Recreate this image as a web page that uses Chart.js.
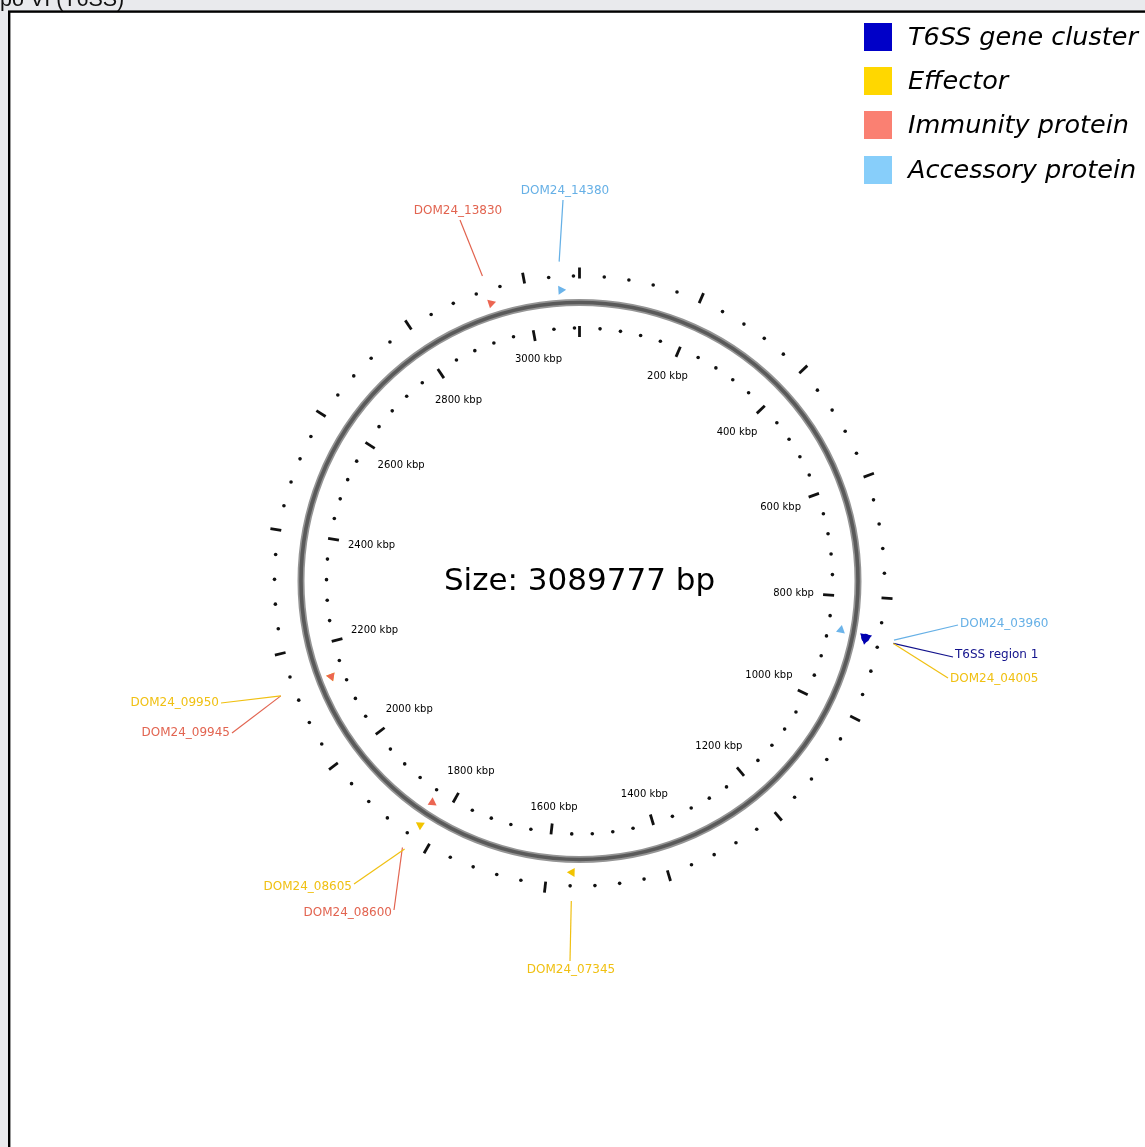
<!DOCTYPE html>
<html>
<head>
<meta charset="utf-8">
<script src="https://cdn.jsdelivr.net/npm/chart.js@4.4.1/dist/chart.umd.min.js"></script>
<style>
  html, body { margin: 0; padding: 0; background: #e9eaed; overflow: hidden; }
  canvas { display: block; }
</style>
</head>
<body>
<canvas id="map" width="1145" height="1147"></canvas>
<script>
// ─── Genome + axis ───
const genomeSize = 3089777;            // bp
const genomeKbp  = genomeSize / 1000;
const majorTicks = [0, 200, 400, 600, 800, 1000, 1200, 1400, 1600, 1800, 2000, 2200, 2400, 2600, 2800, 3000];
const labelTicks = [200, 400, 600, 800, 1000, 1200, 1400, 1600, 1800, 2000, 2200, 2400, 2600, 2800, 3000];
const minorStep  = 40;                 // kbp between the small dots

// ─── Features (position in kbp) ───
const featureNames  = ['DOM24_04005', 'DOM24_03960', 'DOM24_07345', 'DOM24_08605', 'DOM24_08600',
                       'DOM24_09950', 'DOM24_09945', 'DOM24_13830', 'DOM24_14380'];
const featureKbp    = [869.0, 863.8, 1557.5, 1829.2, 1833.3, 2136.8, 2136.8, 2938.2, 3058.5];
const featureType   = ['effector', 'accessory', 'effector', 'effector', 'immunity',
                       'effector', 'immunity', 'immunity', 'accessory'];
const featureStrand = [1, -1, 1, 1, -1, -1, -1, 1, 1];
const featureTrack  = ['outer', 'inner', 'outer', 'outer', 'inner', 'inner', 'inner', 'outer', 'outer'];

const clusterNames = ['T6SS region 1'];
const clusterKbp   = [869.0];

// ─── Legend ───
const legendNames = ['T6SS gene cluster', 'Effector', 'Immunity protein', 'Accessory protein'];
const legendTypes = ['cluster', 'effector', 'immunity', 'accessory'];

// ─── Styles / layout ───
const W = 1145, H = 1147;
const CX = 579.5, CY = 581;            // circle centre in page pixels
const RING_R = 278.5;
const TRACK_R = { outer: 291.5, inner: 266 };
const LEADER_R = 320;
const LEGEND_COLORS = { cluster: '#0000c8', effector: '#ffd700', immunity: '#fa8072', accessory: '#87cefa' };
const MARK_COLORS   = { cluster: '#0000b0', effector: '#f2c400', immunity: '#ec6652', accessory: '#6cb4ea' };
const TEXT_COLORS   = { cluster: '#12128c', effector: '#f0c012', immunity: '#e26450', accessory: '#66b0e6' };

// label text anchor [x, y, align] and leader end [x, y], page pixels
const labelLayout = {
  'DOM24_14380':   { text: [565, 191, 'center'], end: [563, 200] },
  'DOM24_13830':   { text: [458, 211, 'center'], end: [460, 220] },
  'DOM24_03960':   { text: [960, 624, 'left'],   end: [958, 625] },
  'T6SS region 1': { text: [955, 655, 'left'],   end: [953, 657] },
  'DOM24_04005':   { text: [950, 679, 'left'],   end: [948, 678] },
  'DOM24_09950':   { text: [219, 703, 'right'],  end: [221, 703] },
  'DOM24_09945':   { text: [230, 733, 'right'],  end: [232, 733] },
  'DOM24_08605':   { text: [352, 887, 'right'],  end: [354, 884] },
  'DOM24_08600':   { text: [392, 913, 'right'],  end: [394, 910] },
  'DOM24_07345':   { text: [571, 970, 'center'], end: [570, 961] }
};

// ─── Helpers ───
function deg(kbp) { return kbp / genomeKbp * 360; }
function polar(kbp, r) {
  const a = kbp / genomeKbp * 2 * Math.PI;
  return { x: r * Math.sin(a), y: r * Math.cos(a) };
}
function pageToUnits(px, py) { return { x: px - CX, y: CY - py }; }

const minorTicks = [];
for (let k = minorStep; k < genomeKbp; k += minorStep) {
  if (k % 200 !== 0) minorTicks.push(k);
}

function tickPoints(list, r) {
  return list.map(k => Object.assign(polar(k, r), { rot: deg(k) + 90 }));
}

const featurePoints = featureNames.map((n, i) => Object.assign(
  polar(featureKbp[i], TRACK_R[featureTrack[i]]),
  { type: featureType[i], rot: deg(featureKbp[i]) + (featureStrand[i] > 0 ? 90 : -90) }
));
const clusterPoints = clusterKbp.map(k => Object.assign(polar(k, TRACK_R.outer), { rot: deg(k) + 90 }));

// leader lines, one dataset per label
const allNames = featureNames.concat(clusterNames);
const allKbp   = featureKbp.concat(clusterKbp);
const allType  = featureType.concat(clusterNames.map(() => 'cluster'));
const leaderSets = allNames.map((n, i) => {
  const e = labelLayout[n].end;
  return {
    data: [polar(allKbp[i], LEADER_R), pageToUnits(e[0], e[1])],
    showLine: true,
    borderColor: TEXT_COLORS[allType[i]],
    borderWidth: 1.2,
    pointRadius: 0
  };
});

// ─── Drawing plugin: page frame, ring, text, legend ───
const decorations = {
  id: 'decorations',
  beforeDraw(chart) {
    const ctx = chart.ctx;
    ctx.save();
    ctx.fillStyle = '#e9eaed';
    ctx.fillRect(0, 0, W, H);
    ctx.fillStyle = '#ffffff';
    ctx.fillRect(10, 12, W, H);
    ctx.strokeStyle = '#000';
    ctx.lineWidth = 2.4;
    ctx.strokeRect(9.2, 11.6, W + 20, H + 20);
    ctx.font = '21.5px "Liberation Sans", Arial, sans-serif';
    ctx.fillStyle = '#111';
    ctx.textBaseline = 'alphabetic';
    const cut = ctx.measureText('ti').width;
    ctx.fillText('tipo VI (T6SS)', -cut, 6);
    ctx.restore();
  },
  beforeDatasetsDraw(chart) {
    const ctx = chart.ctx, sx = chart.scales.x, sy = chart.scales.y;
    const cx = sx.getPixelForValue(0), cy = sy.getPixelForValue(0);
    const r = sx.getPixelForValue(RING_R) - cx;
    ctx.save();
    ctx.beginPath();
    ctx.arc(cx, cy, r, 0, Math.PI * 2);
    ctx.strokeStyle = '#959595';
    ctx.lineWidth = 7;
    ctx.stroke();
    ctx.strokeStyle = '#5a5a5a';
    ctx.lineWidth = 3.6;
    ctx.stroke();
    ctx.restore();
  },
  afterDatasetsDraw(chart) {
    const ctx = chart.ctx, sx = chart.scales.x, sy = chart.scales.y;
    ctx.save();

    // tick labels
    ctx.font = '10px "DejaVu Sans"';
    ctx.fillStyle = '#000';
    ctx.textAlign = 'center';
    ctx.textBaseline = 'middle';
    labelTicks.forEach(k => {
      const a = k / genomeKbp * 2 * Math.PI;
      const w = ctx.measureText(k + ' kbp').width;
      const r = 235 - (w / 2) * Math.abs(Math.sin(a)) - 5 * Math.abs(Math.cos(a));
      const p = polar(k, r);
      ctx.fillText(k + ' kbp', sx.getPixelForValue(p.x), sy.getPixelForValue(p.y));
    });

    // feature labels
    ctx.font = '12px "DejaVu Sans"';
    allNames.forEach((n, i) => {
      const t = labelLayout[n].text;
      const u = pageToUnits(t[0], t[1]);
      ctx.fillStyle = TEXT_COLORS[allType[i]];
      ctx.textAlign = t[2];
      ctx.fillText(n, sx.getPixelForValue(u.x), sy.getPixelForValue(u.y));
    });

    // centre text
    ctx.font = '31px "DejaVu Sans"';
    ctx.fillStyle = '#000';
    ctx.textAlign = 'center';
    ctx.fillText('Size: ' + genomeSize + ' bp', sx.getPixelForValue(0), sy.getPixelForValue(0) + 1);

    // legend
    const rows = [23, 67, 111, 156];
    ctx.font = 'italic 25.5px "DejaVu Sans"';
    ctx.textAlign = 'left';
    legendNames.forEach((n, i) => {
      ctx.fillStyle = LEGEND_COLORS[legendTypes[i]];
      ctx.fillRect(864, rows[i], 28, 28);
      ctx.fillStyle = '#000';
      ctx.fillText(n, 908, rows[i] + 15);
    });
    ctx.restore();
  }
};

const dashStyle = { pointStyle: 'line', pointRadius: 5.5, pointBorderWidth: 2.8, pointBorderColor: '#111', pointRotation: c => c.raw.rot };
const dotStyle  = { pointStyle: 'circle', pointRadius: 1.8, pointBorderWidth: 0, pointBackgroundColor: '#111' };

new Chart(document.getElementById('map'), {
  type: 'scatter',
  data: {
    datasets: [
      // cluster blob on top
      { data: clusterPoints, pointStyle: 'circle', pointRadius: 4.2, pointBorderWidth: 0,
        pointBackgroundColor: MARK_COLORS.cluster },
      { data: clusterPoints, pointStyle: 'triangle', pointRadius: 7, pointBorderWidth: 0,
        pointBackgroundColor: MARK_COLORS.cluster, pointRotation: c => c.raw.rot },
      { data: featurePoints, pointStyle: 'triangle', pointRadius: 5.2, pointBorderWidth: 0,
        pointBackgroundColor: c => MARK_COLORS[c.raw.type], pointRotation: c => c.raw.rot },
      ...leaderSets,
      Object.assign({ data: tickPoints(majorTicks, 249.5) }, dashStyle),
      Object.assign({ data: tickPoints(majorTicks, 308) }, dashStyle),
      Object.assign({ data: tickPoints(minorTicks, 253) }, dotStyle),
      Object.assign({ data: tickPoints(minorTicks, 305) }, dotStyle)
    ]
  },
  options: {
    responsive: false,
    devicePixelRatio: 1,
    animation: false,
    events: [],
    layout: { padding: 0, autoPadding: false },
    scales: {
      x: { type: 'linear', min: -CX, max: W - CX, display: false },
      y: { type: 'linear', min: CY - H, max: CY, display: false }
    },
    plugins: { legend: { display: false }, tooltip: { enabled: false } }
  },
  plugins: [decorations]
});
</script>
</body>
</html>
